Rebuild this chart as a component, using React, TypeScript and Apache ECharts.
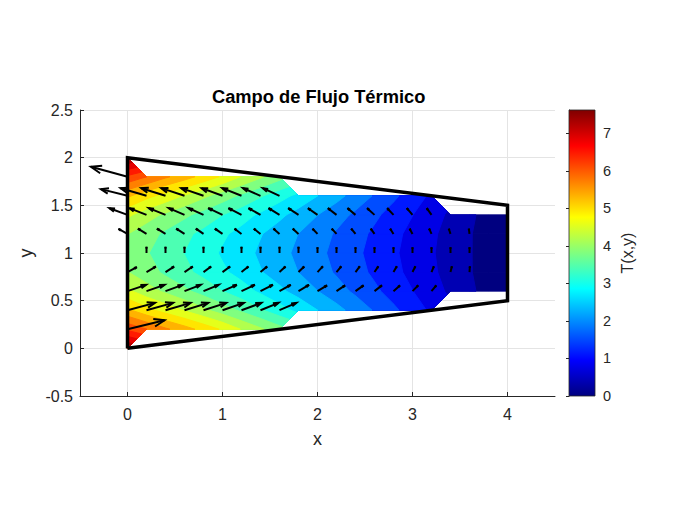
import React, { useEffect, useRef } from "react";
import * as echarts from "echarts";

const titleText = "Campo de Flujo Térmico";
const xTicks = [0, 1, 2, 3, 4];
const xNodes = [0, 0.2, 0.4, 0.6, 0.8, 1, 1.2, 1.4, 1.6, 1.8, 2, 2.2, 2.4, 2.6, 2.8, 3, 3.2, 3.4, 3.6, 3.8, 4];
const yNodes = [0, 0.2, 0.4, 0.6, 0.8, 1, 1.2, 1.4, 1.6, 1.8, 2];
const outlineX = [0, 4, 4, 0, 0];
const outlineY = [0, 0.5, 1.5, 2, 0];
const tMax = 7.62;
const levels = [0, 0.381, 0.762, 1.143, 1.524, 1.905, 2.286, 2.667, 3.048, 3.429, 3.81, 4.191, 4.572, 4.953, 5.334, 5.715, 6.096, 6.477, 6.858, 7.239];

const T00 = [7.62];
const T02 = [6.4, 6.1, 5.78, 5.5, 5.2, 4.9, 4.55, 4.25, 3.95];
const T04 = [5.4, 5.07, 4.8, 4.54, 4.27, 4.0, 3.74, 3.47, 3.2, 2.94, 2.67, 2.41, 2.14, 1.87, 1.6, 1.34, 1.07];
const T06 = [4.65, 4.35, 4.12, 3.89, 3.66, 3.43, 3.21, 2.98, 2.75, 2.52, 2.29, 2.06, 1.83, 1.6, 1.37, 1.15, 0.92, 0.69, 0.46, 0.23, 0];
const T08 = [4.2, 3.98, 3.73, 3.52, 3.32, 3.11, 2.92, 2.69, 2.49, 2.28, 2.07, 1.86, 1.66, 1.45, 1.24, 1.04, 0.83, 0.62, 0.41, 0.21, 0];
const T10 = [4.05, 3.84, 3.63, 3.42, 3.21, 3.0, 2.82, 2.6, 2.41, 2.2, 2.0, 1.8, 1.6, 1.4, 1.2, 1.0, 0.8, 0.6, 0.41, 0.2, 0];
const T12 = T08;
const T14 = T06;
const T16 = T04;
const T18 = T02;
const T20 = T00;
const tempRows = [T00, T02, T04, T06, T08, T10, T12, T14, T16, T18, T20];

// Arrow components, by row of y, starting at x = 0
const y18u = [-0.385];
const y18v = [0.105];
const y16u = [-0.28, -0.273, -0.255, -0.245, -0.235, -0.22, -0.203, -0.185, -0.175];
const y16v = [0.07, 0.08, 0.08, 0.08, 0.08, 0.08, 0.08, 0.08, 0.08];
const y14u = [-0.19, -0.18, -0.175, -0.165, -0.157, -0.15, -0.137, -0.126, -0.115, -0.108, -0.1, -0.09, -0.084, -0.077, -0.066, -0.06, -0.05];
const y14v = [0.07, 0.07, 0.07, 0.07, 0.07, 0.07, 0.07, 0.07, 0.07, 0.07, 0.07, 0.07, 0.07, 0.07, 0.07, 0.07, 0.07];
const y12u = [-0.095, -0.09, -0.09, -0.087, -0.08, -0.08, -0.073, -0.07, -0.063, -0.06, -0.052, -0.05, -0.045, -0.04, -0.035, -0.03, -0.025, -0.018, -0.007];
const y12v = [0.052, 0.055, 0.055, 0.055, 0.055, 0.055, 0.055, 0.055, 0.055, 0.055, 0.055, 0.055, 0.055, 0.055, 0.055, 0.055, 0.055, 0.055, 0.055];
const y10u = [0, 0, 0, 0, 0, 0, 0, 0, 0, 0, 0, 0, 0, 0, 0, 0, 0, 0, 0];
const y10v = [0.065, 0.065, 0.065, 0.065, 0.065, 0.065, 0.065, 0.065, 0.065, 0.065, 0.06, 0.06, 0.06, 0.06, 0.06, 0.06, 0.06, 0.06, 0.06];
const y08u = [0.098, 0.098, 0.09, 0.087, 0.08, 0.08, 0.073, 0.07, 0.063, 0.06, 0.056, 0.05, 0.045, 0.04, 0.035, 0.03, 0.025, 0.015, 0.004];
const y08v = [0.052, 0.058, 0.058, 0.058, 0.058, 0.058, 0.058, 0.058, 0.058, 0.058, 0.06, 0.06, 0.06, 0.06, 0.06, 0.06, 0.06, 0.06, 0.06];
const y06u = [0.196, 0.19, 0.18, 0.17, 0.16, 0.15, 0.14, 0.13, 0.118, 0.11, 0.1, 0.09, 0.085, 0.078, 0.068, 0.06, 0.05];
const y06v = [0.066, 0.066, 0.066, 0.066, 0.066, 0.066, 0.066, 0.066, 0.066, 0.066, 0.06, 0.06, 0.06, 0.06, 0.06, 0.06, 0.06];
const y04u = [0.29, 0.28, 0.265, 0.25, 0.24, 0.225, 0.21, 0.19, 0.178];
const y04v = [0.077, 0.077, 0.077, 0.077, 0.077, 0.077, 0.077, 0.077, 0.077];
const y02u = [0.39];
const y02v = [0.095];
const arrowRows: [number, number[], number[]][] = [
  [1.8, y18u, y18v], [1.6, y16u, y16v], [1.4, y14u, y14v], [1.2, y12u, y12v], [1.0, y10u, y10v],
  [0.8, y08u, y08v], [0.6, y06u, y06v], [0.4, y04u, y04v], [0.2, y02u, y02v],
];

const jetStops: [number, string][] = [
  [0, "#000080"], [0.125, "#0000ff"], [0.375, "#00ffff"], [0.625, "#ffff00"], [0.875, "#ff0000"], [1, "#800000"],
];

function jet(t: number): string {
  for (let i = 1; i < jetStops.length; i++) {
    if (t <= jetStops[i][0]) {
      const [a, ca] = jetStops[i - 1];
      const [b, cb] = jetStops[i];
      const f = (t - a) / (b - a);
      const ch = (c: string, k: number) => parseInt(c.substr(k, 2), 16);
      const mix = (k: number) => Math.round(ch(ca, k) + (ch(cb, k) - ch(ca, k)) * f);
      return `rgb(${mix(1)},${mix(3)},${mix(5)})`;
    }
  }
  return "#800000";
}

type V = [number, number, number];

function valueAt(i: number, j: number): number | null {
  const row = tempRows[j];
  return i < row.length ? row[i] : null;
}

function cellPolygons(level: number): [number, number][][] {
  const polys: [number, number][][] = [];
  for (let j = 0; j < yNodes.length - 1; j++) {
    for (let i = 0; i < xNodes.length - 1; i++) {
      const corners: [number, number][] = [[i, j], [i + 1, j], [i + 1, j + 1], [i, j + 1]];
      const verts: V[] = [];
      corners.forEach(([a, b]) => {
        const t = valueAt(a, b);
        if (t !== null) verts.push([xNodes[a], yNodes[b], t]);
      });
      if (verts.length < 3) continue;
      const out: [number, number][] = [];
      for (let k = 0; k < verts.length; k++) {
        const p = verts[k];
        const q = verts[(k + 1) % verts.length];
        if (p[2] >= level) out.push([p[0], p[1]]);
        if (p[2] >= level !== q[2] >= level) {
          const f = (level - p[2]) / (q[2] - p[2]);
          out.push([p[0] + (q[0] - p[0]) * f, p[1] + (q[1] - p[1]) * f]);
        }
      }
      if (out.length >= 3) polys.push(out);
    }
  }
  return polys;
}

const arrowData: number[][] = [];
arrowRows.forEach(([y, us, vs]) => {
  us.forEach((u, i) => arrowData.push([xNodes[i], y, u, vs[i]]));
});

const ink = "#262626";
const fontFamily = "'Liberation Sans', Arial, sans-serif";

export default function App() {
  const ref = useRef<HTMLDivElement>(null);
  useEffect(() => {
    const chart = echarts.init(ref.current!, null, { renderer: "svg" });
    chart.setOption({
      animation: false,
      backgroundColor: "#ffffff",
      textStyle: { fontFamily },
      title: {
        text: titleText,
        left: 207,
        top: 82,
        textStyle: { fontSize: 18.3, fontWeight: "bold", color: "#000000", fontFamily },
      },
      grid: [
        { left: 80, top: 110, width: 475, height: 286 },
        { left: 569, top: 110, width: 26, height: 286 },
      ],
      xAxis: [
        {
          type: "value",
          gridIndex: 0,
          min: -0.5,
          max: 4.5,
          name: "x",
          nameLocation: "middle",
          nameGap: 34,
          nameTextStyle: { fontSize: 18, color: ink },
          axisLine: { onZero: false, lineStyle: { color: ink, width: 1 } },
          axisTick: { inside: true, length: 4, lineStyle: { color: ink }, customValues: xTicks },
          axisLabel: { fontSize: 16, color: ink, margin: 10, customValues: xTicks },
          splitLine: { show: true, lineStyle: { color: "#e4e4e4", width: 1 } },
        },
        { type: "value", gridIndex: 1, min: 0, max: 1, show: false },
      ],
      yAxis: [
        {
          type: "value",
          gridIndex: 0,
          min: -0.5,
          max: 2.5,
          interval: 0.5,
          name: "y",
          nameLocation: "middle",
          nameGap: 41,
          nameTextStyle: { fontSize: 18, color: ink },
          axisLine: { show: true, onZero: false, lineStyle: { color: ink, width: 1 } },
          axisTick: { show: true, inside: true, length: 4, lineStyle: { color: ink } },
          axisLabel: { fontSize: 16, color: ink, margin: 7, formatter: (v: number) => String(v) },
          splitLine: { show: true, lineStyle: { color: "#e4e4e4", width: 1 } },
        },
        {
          type: "value",
          gridIndex: 1,
          min: 0,
          max: tMax,
          interval: 1,
          position: "right",
          name: "T(x,y)",
          nameLocation: "middle",
          nameRotate: 90,
          nameGap: 24,
          nameTextStyle: { fontSize: 16, color: ink },
          axisLine: { show: true, lineStyle: { color: ink, width: 1 } },
          axisTick: { show: true, inside: true, length: 3, lineStyle: { color: ink } },
          axisLabel: { fontSize: 14.5, color: ink, margin: 8, showMaxLabel: false },
          splitLine: { show: false },
        },
      ],
      series: [
        {
          type: "custom",
          name: "T",
          xAxisIndex: 0,
          yAxisIndex: 0,
          coordinateSystem: "cartesian2d",
          silent: true,
          clip: false,
          data: levels.map((l, i) => [i, l]),
          encode: { x: 0, y: 1 },
          renderItem: (params: any, api: any) => {
            const level = levels[params.dataIndex];
            const color = jet(level / tMax);
            return {
              type: "group",
              children: cellPolygons(level).map((poly) => ({
                type: "polygon",
                shape: { points: poly.map((p) => api.coord(p)) },
                style: { fill: color, stroke: color, lineWidth: 1 },
              })),
            };
          },
          z: 2,
        },
        {
          type: "custom",
          name: "q",
          xAxisIndex: 0,
          yAxisIndex: 0,
          coordinateSystem: "cartesian2d",
          silent: true,
          clip: false,
          data: arrowData,
          encode: { x: 0, y: 1 },
          renderItem: (params: any, api: any) => {
            const [x, y, u, v] = arrowData[params.dataIndex];
            const a = api.coord([x, y]);
            const b = api.coord([x + u, y + v]);
            const dx = b[0] - a[0];
            const dy = b[1] - a[1];
            const len = Math.hypot(dx, dy);
            const al = 0.28;
            const be = 0.36 * Math.min(1, len / 22);
            const line = { stroke: "#000000", lineWidth: 2, fill: "none" };
            return {
              type: "group",
              children: [
                { type: "polyline", shape: { points: [a, b] }, style: line },
                {
                  type: "polyline",
                  shape: {
                    points: [
                      [b[0] - al * (dx + be * dy), b[1] - al * (dy - be * dx)],
                      b,
                      [b[0] - al * (dx - be * dy), b[1] - al * (dy + be * dx)],
                    ],
                  },
                  style: line,
                },
              ],
            };
          },
          z: 4,
        },
        {
          type: "line",
          name: "outline",
          xAxisIndex: 0,
          yAxisIndex: 0,
          data: outlineX.map((x, i) => [x, outlineY[i]]),
          showSymbol: false,
          symbol: "none",
          silent: true,
          lineStyle: { color: "#000000", width: 3.5, join: "miter" },
          z: 5,
        },
        {
          type: "custom",
          name: "colorbar",
          xAxisIndex: 1,
          yAxisIndex: 1,
          coordinateSystem: "cartesian2d",
          silent: true,
          data: [[0, 0, 1, tMax]],
          renderItem: (_params: any, api: any) => {
            const p0 = api.coord([0, tMax]);
            const p1 = api.coord([1, 0]);
            return {
              type: "rect",
              shape: { x: p0[0], y: p0[1], width: p1[0] - p0[0], height: p1[1] - p0[1] },
              style: {
                fill: new echarts.graphic.LinearGradient(
                  0, 1, 0, 0,
                  jetStops.map(([offset, color]) => ({ offset, color }))
                ),
                stroke: ink,
                lineWidth: 0.8,
              },
            };
          },
          z: 2,
        },
      ],
    });
    return () => chart.dispose();
  }, []);
  return <div ref={ref} style={{ position: "fixed", left: 0, top: 0, width: 700, height: 525 }} />;
}
